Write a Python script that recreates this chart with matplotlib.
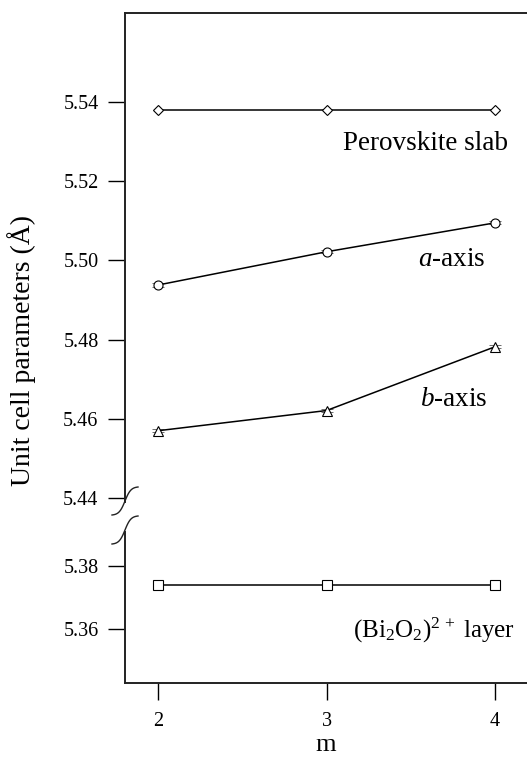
import matplotlib
matplotlib.use("Agg")
import matplotlib.pyplot as plt
import numpy as np
from matplotlib.lines import Line2D

m = [2, 3, 4]
perovskite = [5.538, 5.538, 5.538]
a_axis = [5.4938, 5.5022, 5.5095]
b_axis = [5.4570, 5.4621, 5.4782]
bi2o2 = [5.374, 5.374, 5.374]
err_ab = [0.0004, 0.0004, 0.0004]

upper_ticks = [5.44, 5.46, 5.48, 5.50, 5.52, 5.54]
lower_ticks = [5.36, 5.38]

plt.rcParams['font.family'] = ['Liberation Serif', 'DejaVu Serif']
plt.rcParams['mathtext.fontset'] = 'custom'
plt.rcParams['mathtext.rm'] = 'Liberation Serif'
plt.rcParams['mathtext.it'] = 'Liberation Serif:italic'

W, H = 527, 760
fig = plt.figure(figsize=(W / 100, H / 100), dpi=100)

left = 125 / W
axw = 1.0 - left
ax_up = fig.add_axes([left, (H - 502) / H, axw, (502 - 13) / H])
ax_lo = fig.add_axes([left, (H - 683) / H, axw, (683 - 532) / H])

xlim = (1.804, 4.19)
mk = dict(color='black', lw=1.1, markerfacecolor='white', markeredgecolor='black',
          markeredgewidth=0.8, zorder=3)

ax_up.plot(m, perovskite, marker='D', markersize=5.5, **mk)
ax_up.errorbar(m, a_axis, yerr=err_ab, fmt='none', ecolor='#555555', elinewidth=0.6,
               capsize=4, capthick=0.6, zorder=2)
ax_up.plot(m, a_axis, marker='o', markersize=6.5, **mk)
ax_up.errorbar(m, b_axis, yerr=err_ab, fmt='none', ecolor='#555555', elinewidth=0.6,
               capsize=4, capthick=0.6, zorder=2)
ax_up.plot(m, b_axis, marker='^', markersize=6.5, **mk)
ax_lo.plot(m, bi2o2, marker='s', markersize=6.5, **mk)

ax_up.set_xlim(*xlim)
ax_lo.set_xlim(*xlim)
ax_up.set_ylim(5.439, 5.5625)
ax_lo.set_ylim(5.3429, 5.3908)

for ax in (ax_up, ax_lo):
    ax.spines['right'].set_visible(False)
    for s in ax.spines.values():
        s.set_linewidth(1.4)
        s.set_color('#222222')
    ax.tick_params(axis='y', direction='out', length=12, width=1.0, pad=7,
                   labelsize=14.5, colors='black')
    ax.tick_params(axis='x', direction='out', length=12, width=1.0, pad=9,
                   labelsize=14.5, colors='black')

ax_up.spines['bottom'].set_visible(False)
ax_lo.spines['top'].set_visible(False)
ax_up.set_yticks(upper_ticks)
ax_up.set_yticklabels([f"{t:.2f}" for t in upper_ticks])
ax_lo.set_yticks(lower_ticks)
ax_lo.set_yticklabels([f"{t:.2f}" for t in lower_ticks])
ax_up.set_xticks([])
ax_lo.set_xticks(m)
ax_lo.set_xticklabels([str(v) for v in m])

# annotations
ax_up.text(3.585, 5.5295, "Perovskite slab", ha='center', va='center', fontsize=19.5)
ax_up.text(3.745, 5.5003, r"$\mathit{a}$-axis", ha='center', va='center', fontsize=19.5)
ax_up.text(3.757, 5.4650, r"$\mathit{b}$-axis", ha='center', va='center', fontsize=19.5)
ax_lo.text(3.64, 5.3595, r"(Bi$_2$O$_2$)$^{2\,+}$ layer", ha='center', va='center', fontsize=18)

fig.text(326 / W, 1 - 745 / H, "m", ha='center', va='center', fontsize=19)
fig.text(22 / W, 1 - 350 / H, "Unit cell parameters (\u00c5)", ha='center', va='center',
         rotation=90, fontsize=20)

# axis break marks (decoration, in figure pixels)
t = np.linspace(-1, 1, 40)
for yc in (501, 530):
    xs_f = (125 + 13 * t) / W
    ys_f = 1 - (yc - 14 * np.tanh(2.2 * t) / np.tanh(2.2)) / H
    fig.add_artist(Line2D(xs_f, ys_f, color='#222222', lw=1.0))

fig.savefig("out.png", dpi=100)
